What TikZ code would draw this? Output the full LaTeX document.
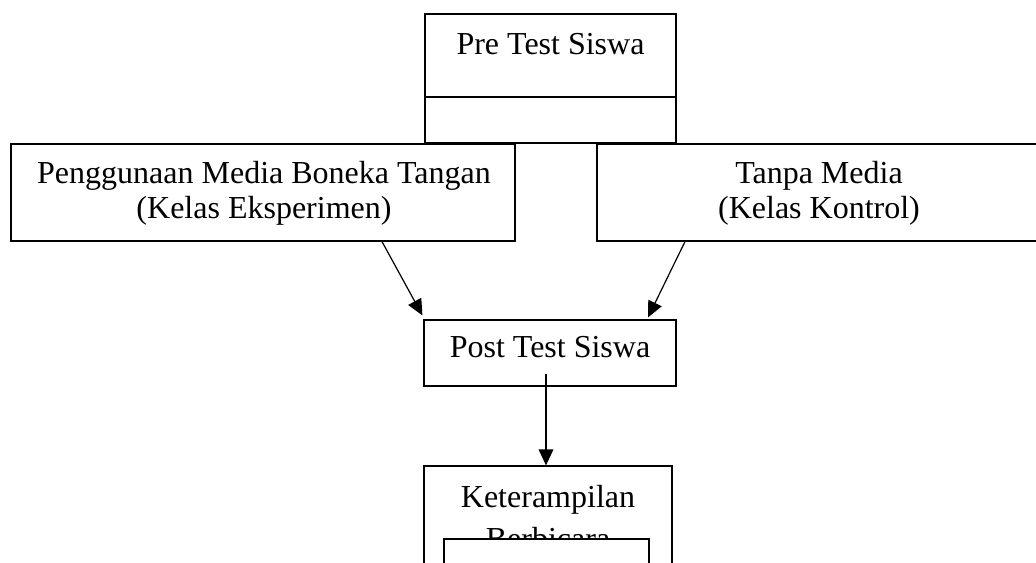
\documentclass[tikz,border=0pt]{standalone}
\usepackage{fontspec}
\setmainfont{Liberation Serif}
\usetikzlibrary{arrows.meta}
\begin{document}
\begin{tikzpicture}[x=0.75pt,y=-0.75pt,
  box/.style={draw,line width=0.9pt,inner sep=0pt,rectangle},
  txt/.style={font=\fontsize{24}{26.25}\selectfont,inner sep=0pt,anchor=base},
  arr/.style={line width=0.9pt,-{Triangle[length=12pt,width=11pt]}}]
\useasboundingbox (0,0) rectangle (1036,563);
% Pre test
\node[box,minimum width=188.25pt,minimum height=96.75pt] (pre) at (550.5,78.5) {};
\draw[line width=0.9pt] (pre.west |- 0,97) -- (pre.east |- 0,97);
\node[txt] (pret) at (550.5,55) {Pre Test Siswa};
% Left box
\node[box,minimum width=378pt,minimum height=72.75pt] (left) at (263,192.5) {};
\node[txt] (leftt1) at (264,184) {Penggunaan Media Boneka Tangan};
\node[txt] (leftt2) at (264,219) {(Kelas Eksperimen)};
% Right box
\node[box,minimum width=332.25pt,minimum height=72.75pt] (right) at (818.5,192.5) {};
\node[txt] (rightt1) at (819,184) {Tanpa Media};
\node[txt] (rightt2) at (819,219) {(Kelas Kontrol)};
% Post test
\node[box,minimum width=189pt,minimum height=49.5pt] (post) at (550,353) {};
\node[txt] (postt) at (550,357) {Post Test Siswa};
% Bottom box
\node[box,minimum width=186pt,minimum height=85.5pt] (bot) at (548,523) {};
\node[txt] (bott1) at (548,507) {Keterampilan};
\node[txt] (bott2) at (548,549) {Berbicara};
\node[box,fill=white,minimum width=153.75pt,minimum height=38.25pt] (inner) at (546.5,564.5) {};
% Arrows
\draw[arr] ([xshift=89.25pt]left.south) -- ([shift={(-0.75pt,3pt)}]post.north west);
\draw[arr] ([xshift=-100.125pt]right.south) -- ([shift={(73.5pt,1.5pt)}]post.north);
\draw[arr] ([shift={(-3pt,-15.75pt)}]post.center) -- ([xshift=-1.5pt]bot.north);
\end{tikzpicture}
\end{document}
